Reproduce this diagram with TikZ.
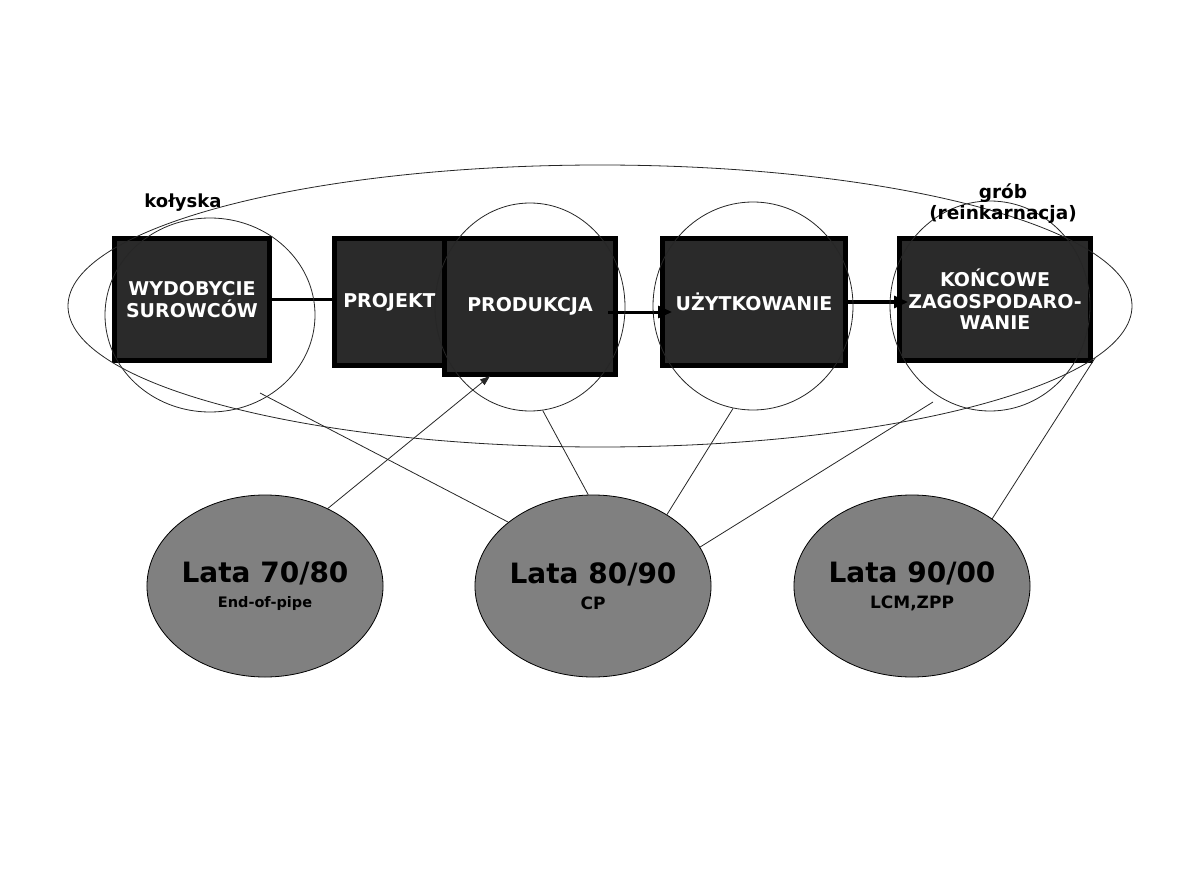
\documentclass[tikz,border=0pt]{standalone}
\usepackage{fontspec}
\setmainfont{DejaVu Sans}
\usetikzlibrary{shapes.geometric,arrows.meta}
\definecolor{boxgray}{HTML}{2A2A2A}
\definecolor{latagray}{HTML}{808080}

\begin{document}
\begin{tikzpicture}[x=1pt,y=-1pt,
  stage/.style={draw=black,line width=5pt,fill=boxgray,text=white,inner sep=0pt,
    align=center,font=\bfseries\fontsize{19}{21.5}\selectfont},
  ring/.style={ellipse,draw=black!85,line width=0.8pt,inner sep=0pt},
  lata/.style={ellipse,draw=black,line width=0.8pt,fill=latagray,inner sep=0pt,
    minimum width=228pt,minimum height=182pt,align=center},
  flow/.style={line width=3pt,-{Triangle[length=14pt,width=12pt]}},
  link/.style={line width=0.8pt,black!85}]
  \useasboundingbox (0,0) rectangle (1191,893);
  \node[stage,minimum width=155pt,minimum height=122pt] (wyd) at (192,299.5) {WYDOBYCIE\\SUROWCÓW};
  \node[stage,minimum width=110pt,minimum height=127pt] (proj) at (389.5,302) {PROJEKT};
  \node[stage,minimum width=171pt,minimum height=136pt] (prod) at (530,306.5) {PRODUKCJA};
  \node[stage,minimum width=183pt,minimum height=127pt] (uzyt) at (754,302) {UŻYTKOWANIE};
  \node[stage,minimum width=191pt,minimum height=122pt] (kon) at (995,299.5) {KOŃCOWE\\ZAGOSPODARO-\\WANIE};
  \draw[line width=3pt] (wyd.east) -- (wyd.east -| proj.west);
  \draw[flow] ([shift={(-10,5.5)}]prod.east) -- ([shift={(12,10)}]uzyt.west);
  \draw[flow] (uzyt.east) -- ([shift={(11,2.5)}]kon.west);
  \node[ring,minimum width=1064pt,minimum height=282pt] (cykl) at (600,306) {};
  \node[ring,minimum width=210pt,minimum height=194pt] (cwyd) at (210,315) {};
  \node[ring,minimum width=190pt,minimum height=208pt] (cprod) at (530,307) {};
  \node[ring,minimum width=200pt,minimum height=208pt] (cuzyt) at (753,306) {};
  \node[ring,minimum width=200pt,minimum height=210pt] (ckon) at (990,306) {};
  \node[font=\bfseries\fontsize{18}{20}\selectfont] (kol) at (183,203) {kołyska};
  \node[font=\bfseries\fontsize{18.5}{21}\selectfont,align=center] (grob) at (1003,204) {grób\\(reinkarnacja)};
  \node[lata] (l70) at (265,586) {\bfseries\fontsize{28}{28}\selectfont Lata 70/80\\[10pt]\bfseries\fontsize{14.5}{17}\selectfont End-of-pipe};
  \node[lata] (l80) at (593,586) {\bfseries\fontsize{28}{28}\selectfont Lata 80/90\\[10pt]\bfseries\fontsize{17}{17}\selectfont CP};
  \node[lata] (l90) at (912,586) {\bfseries\fontsize{28}{28}\selectfont Lata 90/00\\[10pt]\bfseries\fontsize{17}{17}\selectfont LCM,ZPP};
  \coordinate (prodin) at (490,376);
  \coordinate (wydin) at (260,393);
  \coordinate (konin) at (933,402);
  \draw[link,-{Triangle[length=10pt,width=7pt]}] (l70.51) -- (prodin);
  \draw[link] (l80.143) -- (wydin);
  \draw[link] (l80.93) -- (cprod.-83);
  \draw[link] (l80.44) -- (cuzyt.-101);
  \draw[link] (l80.20) -- (konin);
  \draw[link] (l90.40) -- (cykl.-6);
\end{tikzpicture}
\end{document}
